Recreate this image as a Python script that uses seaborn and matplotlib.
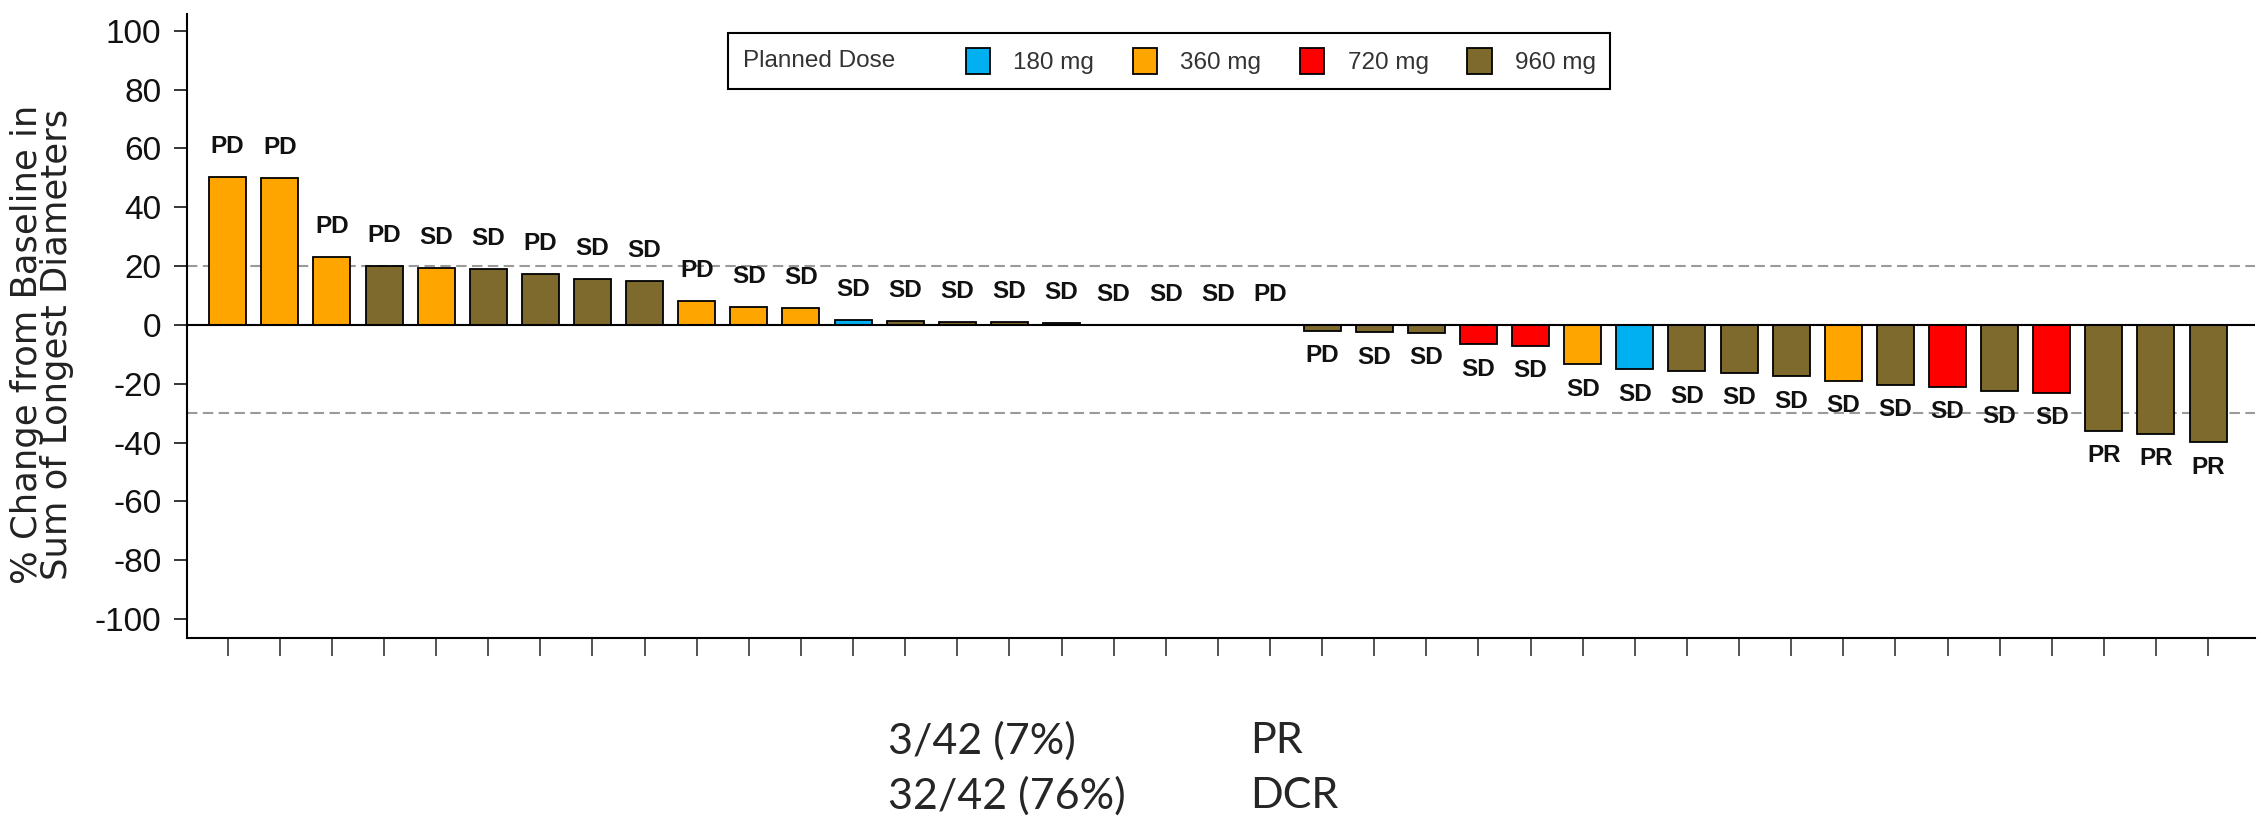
import matplotlib
matplotlib.use("Agg")
import matplotlib.pyplot as plt
import pandas as pd
import seaborn as sns
from matplotlib.patches import Patch
from matplotlib.offsetbox import HPacker

# ---- data -------------------------------------------------------------
patients = [f"P{i:02d}" for i in range(1, 40)]

pct_change = [50.4, 49.9, 23.2, 20.0, 19.2, 19.1, 17.2, 15.6, 14.9, 8.0,
              6.1, 5.7, 1.7, 1.3, 1.0, 1.0, 0.6, 0.0, 0.0, 0.0,
              0.0, -1.9, -2.4, -2.6, -6.5, -7.1, -13.4, -15.1, -15.7, -16.2,
              -17.4, -18.9, -20.4, -21.0, -22.5, -23.1, -35.9, -36.9, -39.9]

doses = ["360 mg", "360 mg", "360 mg", "960 mg", "360 mg", "960 mg", "960 mg",
         "960 mg", "960 mg", "360 mg", "360 mg", "360 mg", "180 mg", "960 mg",
         "960 mg", "960 mg", "960 mg", "960 mg", "960 mg", "960 mg", "960 mg",
         "960 mg", "960 mg", "960 mg", "720 mg", "720 mg", "360 mg", "180 mg",
         "960 mg", "960 mg", "960 mg", "360 mg", "960 mg", "720 mg", "960 mg",
         "720 mg", "960 mg", "960 mg", "960 mg"]

responses = ["PD", "PD", "PD", "PD", "SD", "SD", "PD", "SD", "SD", "PD",
             "SD", "SD", "SD", "SD", "SD", "SD", "SD", "SD", "SD", "SD",
             "PD", "PD", "SD", "SD", "SD", "SD", "SD", "SD", "SD", "SD",
             "SD", "SD", "SD", "SD", "SD", "SD", "PR", "PR", "PR"]

dose_levels = ["180 mg", "360 mg", "720 mg", "960 mg"]
dose_colors = ["#00B0F0", "#FFA500", "#FF0000", "#7F6A2D"]

threshold_pd = 20
threshold_pr = -30

summary_counts = ["3/42 (7%)", "32/42 (76%)"]
summary_labels = ["PR", "DCR"]

# ---- style ------------------------------------------------------------
sns.set_style("ticks")
plt.rcParams["font.family"] = ["Liberation Sans", "DejaVu Sans"]
plt.rcParams["axes.unicode_minus"] = False

W, H = 2257, 821
fig = plt.figure(figsize=(W / 100, H / 100), dpi=100)
ax = fig.add_axes([187 / W, 1 - 638 / H, (2255 - 187) / W, (638 - 14) / H])

df = pd.DataFrame({"patient": patients, "change": pct_change, "dose": doses})
palette = dict(zip(dose_levels, dose_colors))

sns.barplot(data=df, x="patient", y="change", hue="dose", order=patients,
            hue_order=dose_levels, palette=palette, dodge=False, width=0.71,
            saturation=1, edgecolor="black", linewidth=1.3, legend=False,
            zorder=3, ax=ax)

# reference lines
ax.axhline(threshold_pd, color="#9a9a9a", lw=1.5, ls=(0, (5, 2.6)), zorder=1)
ax.axhline(threshold_pr, color="#9a9a9a", lw=1.5, ls=(0, (5, 2.6)), zorder=1)
ax.axhline(0, color="black", lw=1.5, zorder=4)

# response labels
for i, (v, r) in enumerate(zip(pct_change, responses)):
    dy = 22 if v >= 0 else -18
    ax.annotate(r, (i, v), xytext=(0, dy), textcoords="offset points",
                ha="center", va="center", fontsize=17.5, fontweight="bold",
                color="#111111")

# axes
ax.set_xlim(-0.78, 38.9)
ax.set_ylim(-106.4, 105.7)
ax.set_yticks(range(-100, 101, 20))
ax.set_xticks(range(len(patients)))
ax.set_xticklabels([""] * len(patients))
ax.set_xlabel("")
ax.set_ylabel("% Change from Baseline in\nSum of Longest Diameters",
              fontsize=25.5, color="#222222", linespacing=0.86,
              family=["DejaVu Sans"])
ax.yaxis.set_label_coords(-0.0545, 0.47)
ax.tick_params(axis="y", length=9.5, width=1.3, pad=9, labelsize=24,
               labelcolor="#111111", direction="out")
ax.tick_params(axis="x", length=13, width=1.1, direction="out")
sns.despine(ax=ax)
for side in ("left", "bottom"):
    ax.spines[side].set_linewidth(1.5)
    ax.spines[side].set_color("black")

# legend with the title to the left of the entries
handles = [Patch(facecolor=c, edgecolor="black", linewidth=1.3, label=l)
           for l, c in zip(dose_levels, dose_colors)]
leg = fig.legend(handles=handles, title="Planned Dose", ncol=4,
                 loc="upper left", bbox_to_anchor=(728 / W, 1 - 33 / H),
                 bbox_transform=fig.transFigure, frameon=True, fancybox=False,
                 edgecolor="black", framealpha=1, fontsize=17.5,
                 title_fontsize=17.5, handlelength=1.0, handleheight=1.3,
                 handletextpad=0.95, columnspacing=1.6, borderpad=0.6,
                 borderaxespad=0)
leg.get_frame().set_linewidth(1.5)
for t in leg.get_texts():
    t.set_color("#333333")
leg.get_title().set_color("#333333")
vbox = leg._legend_box
title_box, handle_box = vbox.get_children()
vbox._children = [HPacker(pad=0, sep=51, align="center",
                          children=[title_box, handle_box])]

# summary below the chart
for k, (cnt, lab) in enumerate(zip(summary_counts, summary_labels)):
    y = 1 - (741 + 55 * k) / H
    fig.text(888 / W, y, cnt, fontsize=31, va="center", ha="left",
             family=["Lato", "DejaVu Sans"])
    fig.text(1250 / W, y, lab, fontsize=31, va="center", ha="left",
             family=["Lato", "DejaVu Sans"])

fig.savefig("out.png", dpi=100, facecolor="white")
